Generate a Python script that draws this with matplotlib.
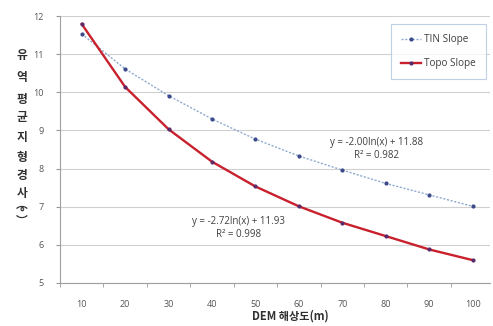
import matplotlib
matplotlib.use("Agg")
import matplotlib.pyplot as plt
from matplotlib.ticker import MultipleLocator, FixedLocator

plt.rcParams['font.family'] = ['Open Sans', 'Noto Sans CJK KR', 'DejaVu Sans']

resolutions = ["10", "20", "30", "40", "50", "60", "70", "80", "90", "100"]
tin_slope = [11.53, 10.61, 9.91, 9.30, 8.77, 8.33, 7.96, 7.61, 7.31, 7.01]
topo_slope = [11.79, 10.14, 9.03, 8.18, 7.53, 7.01, 6.58, 6.23, 5.88, 5.60]
tin_eq = "y = -2.00ln(x) + 11.88\nR² = 0.982"
topo_eq = "y = -2.72ln(x) + 11.93\nR² = 0.998"
y_label_chars = ["유", "역", "평", "균", "지", "형", "경", "사", "︵\n°\n︶"]
x_label = "DEM 해상도(m)"

fig = plt.figure(figsize=(4.93, 3.26), dpi=100)
ax = fig.add_axes([60/493, 1-283/326, 430/493, (283-16)/326])

x = list(range(len(resolutions)))
ax.plot(x, tin_slope, color='#8eaad0', lw=1.0, ls=(0, (1.5, 1.2)),
        marker='o', ms=2, mfc='#3a4a8a', mec='#3a4a8a', label='TIN Slope', zorder=3)
ax.plot(x, topo_slope, color='#c8202c', lw=1.7, ls='-',
        marker='o', ms=2, mfc='#5a2a6a', mec='#5a2a6a', label='Topo Slope', zorder=4)

ax.set_xlim(-0.5, 9.4)
ax.set_ylim(5, 12)
ax.set_xticks(x)
ax.set_xticklabels(resolutions)
ax.xaxis.set_minor_locator(FixedLocator([i - 0.5 for i in range(11)]))
ax.tick_params(axis='x', which='major', length=0, labelsize=6.5, colors='#555555', pad=12)
ax.tick_params(axis='x', which='minor', length=3, direction='out', color='#999999')
ax.yaxis.set_major_locator(MultipleLocator(1))
ax.tick_params(axis='y', which='major', length=3, direction='out', color='#999999',
               labelsize=6.5, labelcolor='#555555', pad=9)
ax.grid(axis='y', color='#d0d0d0', lw=0.8)
ax.set_axisbelow(True)
for s in ['top', 'right']:
    ax.spines[s].set_visible(False)
ax.spines['left'].set_color('#a0a0a0')
ax.spines['bottom'].set_color('#a0a0a0')

leg = ax.legend(loc='upper right', bbox_to_anchor=(486/493, 1-24/326), bbox_transform=fig.transFigure,
                fontsize=7.2, frameon=True, fancybox=False, labelspacing=1.3, numpoints=1,
                handlelength=2.0, handletextpad=0.3, borderpad=1.0, borderaxespad=0)
leg.get_frame().set_edgecolor('#b0c4de')
leg.get_frame().set_linewidth(0.8)
for t in leg.get_texts():
    t.set_color('#404040')

fig.text(377/493, 1-149/326, tin_eq, ha='center', va='center', fontsize=7,
         color='#404040', linespacing=1.3)
fig.text(239/493, 1-228/326, topo_eq, ha='center', va='center', fontsize=7,
         color='#404040', linespacing=1.3)

ys = [55, 78, 99, 118, 137, 157, 176, 193, 213]
for ch, yy in zip(y_label_chars, ys):
    fig.text(22/493, 1-yy/326, ch, ha='center', va='center', fontsize=8.5,
             fontweight='bold', color='#303030', linespacing=0.55,
             family=['Noto Sans CJK KR', 'DejaVu Sans'])

fig.text(290/493, 1-316/326, x_label, ha='center', va='center', fontsize=8,
         fontweight='bold', color='#303030', family=['Noto Sans CJK KR', 'DejaVu Sans'])

fig.savefig('out.png', dpi=100)
